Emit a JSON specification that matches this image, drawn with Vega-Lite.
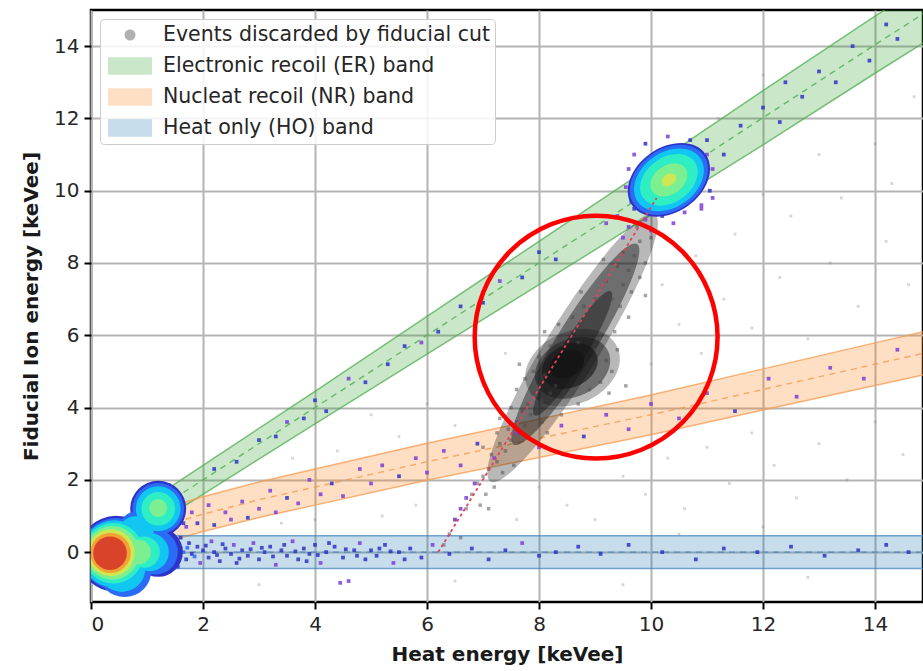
{
  "$schema": "https://vega.github.io/schema/vega-lite/v6.json",
  "width": 832,
  "height": 592,
  "autosize": {"type": "none"},
  "padding": {"left": 91, "top": 10, "right": 0, "bottom": 69},
  "config": {
    "font": "DejaVu Sans",
    "view": {"stroke": "#000000", "strokeWidth": 2.5},
    "axis": {
      "grid": true, "gridColor": "#b4b4b4", "gridWidth": 2, "domain": false,
      "tickColor": "#000000", "tickWidth": 2, "tickSize": 7,
      "labelFont": "DejaVu Sans", "labelFontSize": 20, "labelColor": "#262626", "labelPadding": 5,
      "titleFont": "DejaVu Sans", "titleFontSize": 20, "titleFontWeight": "bold", "titleColor": "#1a1a1a"
    },
    "legend": {
      "orient": "top-left", "offset": 9, "padding": 5, "fillColor": "rgba(255,255,255,0.85)",
      "strokeColor": "#cccccc", "cornerRadius": 4, "labelFont": "DejaVu Sans", "labelFontSize": 20.5,
      "labelColor": "#262626", "labelLimit": 400, "rowPadding": 9, "symbolSize": 484, "labelOffset": 36
    }
  },
  "datasets": {
    "bands": [
      {"band": "Electronic recoil (ER) band", "x": 0, "lo": -0.35, "hi": 0.35, "mid": 0},
      {"band": "Electronic recoil (ER) band", "x": 2, "lo": 1.6, "hi": 2.4, "mid": 2},
      {"band": "Electronic recoil (ER) band", "x": 4, "lo": 3.55, "hi": 4.45, "mid": 4},
      {"band": "Electronic recoil (ER) band", "x": 6, "lo": 5.48, "hi": 6.52, "mid": 6},
      {"band": "Electronic recoil (ER) band", "x": 8, "lo": 7.4, "hi": 8.6, "mid": 8},
      {"band": "Electronic recoil (ER) band", "x": 10, "lo": 9.33, "hi": 10.67, "mid": 10},
      {"band": "Electronic recoil (ER) band", "x": 12, "lo": 11.27, "hi": 12.77, "mid": 12.02},
      {"band": "Electronic recoil (ER) band", "x": 14, "lo": 13.25, "hi": 14.83, "mid": 14.04},
      {"band": "Electronic recoil (ER) band", "x": 15, "lo": 14.22, "hi": 15.84, "mid": 15.03},
      {"band": "Nucleat recoil (NR) band", "x": 0, "lo": -0.35, "hi": 0.55, "mid": 0.1},
      {"band": "Nucleat recoil (NR) band", "x": 0.5, "lo": -0.1, "hi": 0.8, "mid": 0.35},
      {"band": "Nucleat recoil (NR) band", "x": 1, "lo": 0.13, "hi": 1.07, "mid": 0.6},
      {"band": "Nucleat recoil (NR) band", "x": 2, "lo": 0.57, "hi": 1.53, "mid": 1.05},
      {"band": "Nucleat recoil (NR) band", "x": 3, "lo": 0.96, "hi": 1.94, "mid": 1.45},
      {"band": "Nucleat recoil (NR) band", "x": 4, "lo": 1.3, "hi": 2.3, "mid": 1.8},
      {"band": "Nucleat recoil (NR) band", "x": 6, "lo": 1.99, "hi": 3.01, "mid": 2.5},
      {"band": "Nucleat recoil (NR) band", "x": 8, "lo": 2.62, "hi": 3.68, "mid": 3.15},
      {"band": "Nucleat recoil (NR) band", "x": 10, "lo": 3.25, "hi": 4.35, "mid": 3.8},
      {"band": "Nucleat recoil (NR) band", "x": 12, "lo": 3.93, "hi": 5.07, "mid": 4.5},
      {"band": "Nucleat recoil (NR) band", "x": 14, "lo": 4.61, "hi": 5.79, "mid": 5.2},
      {"band": "Nucleat recoil (NR) band", "x": 15, "lo": 4.95, "hi": 6.15, "mid": 5.55},
      {"band": "Heat only (HO) band", "x": 0, "lo": -0.45, "hi": 0.45, "mid": 0},
      {"band": "Heat only (HO) band", "x": 15, "lo": -0.45, "hi": 0.45, "mid": 0}
    ],
    "graylong": [
      {"x": 8.6, "y": 5.65, "level": 1, "spread": 2.8},
      {"x": 8.65, "y": 5.75, "level": 2, "spread": 2.1},
      {"x": 8.6, "y": 5.5, "level": 2, "spread": 1.3}
    ],
    "graycore": [
      {"x": 8.6, "y": 5.1, "level": 1, "spread": 0.88},
      {"x": 8.6, "y": 5.1, "level": 2, "spread": 0.7},
      {"x": 8.55, "y": 5.15, "level": 3, "spread": 0.52},
      {"x": 8.5, "y": 5.2, "level": 4, "spread": 0.32}
    ],
    "grayd": [
      {"x": 6.3, "y": 0.2}, {"x": 6.4, "y": 0.5}, {"x": 6.5, "y": 0.9}, {"x": 6.7, "y": 1.2}, {"x": 6.8, "y": 1.6},
      {"x": 6.9, "y": 1.9}, {"x": 7.0, "y": 2.1}, {"x": 7.1, "y": 2.3}, {"x": 7.15, "y": 2.7}, {"x": 7.25, "y": 2.5},
      {"x": 7.3, "y": 3.0}, {"x": 7.4, "y": 2.8}, {"x": 7.45, "y": 3.4}, {"x": 7.5, "y": 3.1}, {"x": 7.6, "y": 3.6},
      {"x": 7.65, "y": 3.3}, {"x": 7.7, "y": 3.9}, {"x": 7.75, "y": 3.5}, {"x": 7.8, "y": 4.1}, {"x": 7.85, "y": 3.8},
      {"x": 7.9, "y": 4.4}, {"x": 7.95, "y": 4.0}, {"x": 8.0, "y": 4.6}, {"x": 8.05, "y": 4.2}, {"x": 8.1, "y": 4.9},
      {"x": 8.2, "y": 4.4}, {"x": 7.9, "y": 5.0}, {"x": 8.0, "y": 5.4}, {"x": 8.2, "y": 5.7}, {"x": 8.4, "y": 5.9},
      {"x": 8.7, "y": 5.8}, {"x": 9.0, "y": 5.6}, {"x": 9.2, "y": 5.3}, {"x": 9.3, "y": 5.0}, {"x": 9.1, "y": 4.7},
      {"x": 8.9, "y": 4.5}, {"x": 8.6, "y": 4.4}, {"x": 8.3, "y": 4.6}, {"x": 9.4, "y": 5.6}, {"x": 9.35, "y": 6.1},
      {"x": 8.9, "y": 6.3}, {"x": 9.1, "y": 6.6}, {"x": 9.3, "y": 7.0}, {"x": 9.5, "y": 7.4}, {"x": 9.0, "y": 7.0},
      {"x": 9.6, "y": 7.8}, {"x": 9.4, "y": 7.9}, {"x": 9.7, "y": 8.2}, {"x": 9.8, "y": 8.6}, {"x": 9.5, "y": 8.3},
      {"x": 9.2, "y": 7.5}, {"x": 9.65, "y": 7.2}, {"x": 9.9, "y": 8.0}, {"x": 10.0, "y": 8.7}, {"x": 8.8, "y": 6.8},
      {"x": 7.6, "y": 4.5}, {"x": 7.3, "y": 3.7}, {"x": 7.0, "y": 2.9}, {"x": 8.4, "y": 3.8}, {"x": 8.15, "y": 3.3},
      {"x": 9.6, "y": 6.5}, {"x": 9.9, "y": 7.1}, {"x": 8.6, "y": 6.5}, {"x": 8.1, "y": 6.1}, {"x": 9.55, "y": 4.6},
      {"x": 7.75, "y": 4.8}, {"x": 8.35, "y": 6.3}, {"x": 8.75, "y": 7.2}, {"x": 9.15, "y": 8.1}, {"x": 9.75, "y": 9.0},
      {"x": 9.45, "y": 6.8}, {"x": 9.8, "y": 7.6}, {"x": 8.7, "y": 4.1}, {"x": 8.05, "y": 3.6}, {"x": 7.55, "y": 2.4},
      {"x": 7.2, "y": 1.8}, {"x": 6.95, "y": 1.3}, {"x": 6.6, "y": 0.4}, {"x": 9.25, "y": 4.4}, {"x": 7.65, "y": 5.2},
      {"x": 7.35, "y": 2.2}, {"x": 7.05, "y": 1.6}, {"x": 7.25, "y": 3.3}, {"x": 7.5, "y": 4.0}, {"x": 7.1, "y": 1.2}
    ],
    "grayf": [
      {"x": 9.5, "y": 2.1}, {"x": 9.9, "y": 1.6}, {"x": 10.3, "y": 2.6}, {"x": 10.6, "y": 1.2}, {"x": 11.0, "y": 2.9},
      {"x": 11.4, "y": 1.9}, {"x": 11.8, "y": 3.3}, {"x": 12.2, "y": 2.4}, {"x": 12.6, "y": 1.5}, {"x": 13.0, "y": 3.0},
      {"x": 13.5, "y": 2.0}, {"x": 14.0, "y": 3.6}, {"x": 14.5, "y": 2.7}, {"x": 10.0, "y": 5.2}, {"x": 10.5, "y": 6.3},
      {"x": 10.9, "y": 5.5}, {"x": 11.3, "y": 7.0}, {"x": 11.8, "y": 6.2}, {"x": 12.3, "y": 7.6}, {"x": 12.8, "y": 5.9},
      {"x": 13.2, "y": 8.0}, {"x": 13.7, "y": 6.8}, {"x": 14.2, "y": 8.6}, {"x": 14.6, "y": 7.4}, {"x": 10.2, "y": 7.4},
      {"x": 10.8, "y": 8.2}, {"x": 11.5, "y": 8.8}, {"x": 12.5, "y": 9.3}, {"x": 13.4, "y": 9.8}, {"x": 14.3, "y": 10.2},
      {"x": 12.0, "y": 9.9}, {"x": 14.0, "y": 11.3}, {"x": 13.0, "y": 11.0}, {"x": 11.2, "y": 12.0}, {"x": 12.0, "y": 13.2},
      {"x": 14.7, "y": 12.6}, {"x": 5.5, "y": 3.2}, {"x": 5.0, "y": 3.8}, {"x": 4.4, "y": 2.8}, {"x": 3.6, "y": 2.6},
      {"x": 6.0, "y": 4.1}, {"x": 6.5, "y": 3.5}, {"x": 7.0, "y": 4.6}, {"x": 7.4, "y": 5.5}, {"x": 5.8, "y": 1.3},
      {"x": 5.2, "y": 1.0}, {"x": 4.0, "y": 0.9}, {"x": 3.4, "y": 0.8}, {"x": 8.5, "y": 1.3}, {"x": 8.0, "y": 1.8},
      {"x": 7.6, "y": 0.9}, {"x": 9.0, "y": 0.9}, {"x": 10.5, "y": 0.5}, {"x": 12.0, "y": 0.7}, {"x": 3.0, "y": -0.9},
      {"x": 6.5, "y": -0.8}, {"x": 9.5, "y": -0.9}, {"x": 12.8, "y": -0.7}
    ],
    "fdots": [
      {"x": 1.6, "y": 0.1, "level": 1}, {"x": 1.7, "y": -0.2, "level": 1}, {"x": 1.75, "y": 0.25, "level": 1}, {"x": 1.8, "y": -0.05, "level": 1},
      {"x": 1.9, "y": 0.15, "level": 1}, {"x": 1.95, "y": -0.3, "level": 0}, {"x": 2.0, "y": 0.05, "level": 1}, {"x": 2.1, "y": -0.15, "level": 1},
      {"x": 2.15, "y": 0.3, "level": 0}, {"x": 2.2, "y": 0.0, "level": 1}, {"x": 2.3, "y": -0.25, "level": 1}, {"x": 2.4, "y": 0.1, "level": 1},
      {"x": 2.5, "y": -0.05, "level": 1}, {"x": 2.55, "y": 0.2, "level": 0}, {"x": 2.6, "y": -0.3, "level": 1}, {"x": 2.7, "y": 0.05, "level": 1},
      {"x": 2.8, "y": -0.1, "level": 1}, {"x": 2.9, "y": 0.25, "level": 0}, {"x": 3.0, "y": -0.2, "level": 1}, {"x": 3.1, "y": 0.0, "level": 1},
      {"x": 3.2, "y": 0.15, "level": 1}, {"x": 3.3, "y": -0.35, "level": 0}, {"x": 3.4, "y": 0.05, "level": 1}, {"x": 3.5, "y": -0.1, "level": 1},
      {"x": 3.6, "y": 0.3, "level": 0}, {"x": 3.7, "y": -0.2, "level": 1}, {"x": 3.8, "y": 0.1, "level": 1}, {"x": 3.9, "y": -0.05, "level": 1},
      {"x": 4.0, "y": 0.2, "level": 1}, {"x": 4.1, "y": -0.3, "level": 0}, {"x": 4.2, "y": 0.0, "level": 1}, {"x": 4.35, "y": 0.15, "level": 1},
      {"x": 4.5, "y": -0.15, "level": 1}, {"x": 4.6, "y": -0.8, "level": 0}, {"x": 4.45, "y": -0.85, "level": 0}, {"x": 4.7, "y": 0.05, "level": 1},
      {"x": 4.8, "y": 0.25, "level": 0}, {"x": 4.9, "y": -0.2, "level": 1}, {"x": 5.0, "y": 0.05, "level": 1}, {"x": 5.1, "y": -0.1, "level": 1},
      {"x": 5.25, "y": 0.2, "level": 1}, {"x": 5.4, "y": -0.3, "level": 0}, {"x": 5.5, "y": 0.0, "level": 1}, {"x": 5.7, "y": 0.1, "level": 1},
      {"x": 5.9, "y": -0.15, "level": 1}, {"x": 6.1, "y": 0.2, "level": 0}, {"x": 6.4, "y": -0.05, "level": 1}, {"x": 6.8, "y": 0.1, "level": 1},
      {"x": 7.1, "y": -0.2, "level": 1}, {"x": 7.4, "y": 0.05, "level": 1}, {"x": 7.7, "y": 0.25, "level": 0}, {"x": 8.0, "y": -0.1, "level": 1},
      {"x": 8.3, "y": 0.0, "level": 1}, {"x": 8.7, "y": 0.15, "level": 1}, {"x": 9.1, "y": -0.05, "level": 1}, {"x": 9.6, "y": 0.2, "level": 1},
      {"x": 10.2, "y": 0.0, "level": 1}, {"x": 10.8, "y": -0.2, "level": 1}, {"x": 11.3, "y": 0.1, "level": 1}, {"x": 11.9, "y": 0.0, "level": 1},
      {"x": 12.5, "y": 0.15, "level": 1}, {"x": 13.1, "y": -0.1, "level": 1}, {"x": 13.7, "y": 0.05, "level": 1}, {"x": 14.2, "y": 0.2, "level": 1},
      {"x": 14.6, "y": 0.0, "level": 1},
      {"x": 1.65, "y": 0.0, "level": 2}, {"x": 1.72, "y": 0.12, "level": 2}, {"x": 1.85, "y": -0.12, "level": 2}, {"x": 2.05, "y": 0.18, "level": 1},
      {"x": 2.25, "y": -0.08, "level": 1}, {"x": 2.35, "y": 0.22, "level": 1}, {"x": 2.65, "y": -0.18, "level": 1}, {"x": 2.85, "y": 0.08, "level": 1},
      {"x": 3.05, "y": 0.12, "level": 1}, {"x": 3.25, "y": -0.12, "level": 1}, {"x": 3.45, "y": 0.2, "level": 1}, {"x": 3.65, "y": 0.02, "level": 1},
      {"x": 3.85, "y": -0.25, "level": 1}, {"x": 4.05, "y": -0.08, "level": 1}, {"x": 4.25, "y": 0.25, "level": 1}, {"x": 4.55, "y": 0.08, "level": 1},
      {"x": 4.75, "y": -0.1, "level": 1}, {"x": 5.15, "y": 0.1, "level": 1}, {"x": 5.35, "y": 0.02, "level": 1}, {"x": 5.6, "y": -0.2, "level": 1},
      {"x": 1.7, "y": 0.7, "level": 0}, {"x": 1.8, "y": 1.1, "level": 0}, {"x": 1.9, "y": 0.8, "level": 1}, {"x": 2.1, "y": 1.3, "level": 0},
      {"x": 2.2, "y": 0.75, "level": 1}, {"x": 2.4, "y": 1.1, "level": 0}, {"x": 2.5, "y": 0.9, "level": 0}, {"x": 2.7, "y": 1.4, "level": 0},
      {"x": 2.8, "y": 0.95, "level": 1}, {"x": 3.0, "y": 1.2, "level": 0}, {"x": 3.2, "y": 1.7, "level": 0}, {"x": 3.3, "y": 1.1, "level": 0},
      {"x": 3.5, "y": 1.5, "level": 1}, {"x": 3.7, "y": 1.35, "level": 0}, {"x": 3.9, "y": 2.0, "level": 0}, {"x": 4.1, "y": 1.6, "level": 0},
      {"x": 4.3, "y": 1.9, "level": 1}, {"x": 4.5, "y": 1.55, "level": 0}, {"x": 4.8, "y": 2.3, "level": 0}, {"x": 5.0, "y": 1.9, "level": 0},
      {"x": 5.2, "y": 2.4, "level": 0}, {"x": 5.5, "y": 2.1, "level": 1}, {"x": 5.8, "y": 2.6, "level": 0}, {"x": 6.0, "y": 2.2, "level": 0},
      {"x": 6.3, "y": 2.8, "level": 0}, {"x": 6.6, "y": 2.4, "level": 0}, {"x": 6.9, "y": 3.0, "level": 1}, {"x": 7.2, "y": 2.6, "level": 0},
      {"x": 7.6, "y": 3.3, "level": 0}, {"x": 8.0, "y": 2.9, "level": 0}, {"x": 8.4, "y": 3.5, "level": 0}, {"x": 8.8, "y": 3.2, "level": 1},
      {"x": 9.2, "y": 3.8, "level": 0}, {"x": 9.6, "y": 3.4, "level": 0}, {"x": 10.0, "y": 4.1, "level": 0}, {"x": 10.5, "y": 3.7, "level": 0},
      {"x": 11.0, "y": 4.4, "level": 0}, {"x": 11.5, "y": 3.9, "level": 1}, {"x": 12.1, "y": 4.8, "level": 0}, {"x": 12.6, "y": 4.3, "level": 0},
      {"x": 13.2, "y": 5.1, "level": 0}, {"x": 13.8, "y": 4.8, "level": 0}, {"x": 14.4, "y": 5.6, "level": 0},
      {"x": 6.5, "y": 0.9, "level": 0}, {"x": 6.7, "y": 1.5, "level": 0}, {"x": 6.85, "y": 1.9, "level": 0}, {"x": 6.6, "y": 1.2, "level": 0},
      {"x": 2.2, "y": 2.3, "level": 1}, {"x": 2.6, "y": 2.5, "level": 1}, {"x": 3.0, "y": 3.1, "level": 1}, {"x": 3.3, "y": 3.2, "level": 1},
      {"x": 3.5, "y": 3.6, "level": 0}, {"x": 3.8, "y": 3.7, "level": 1}, {"x": 4.0, "y": 4.2, "level": 1}, {"x": 4.2, "y": 3.9, "level": 1},
      {"x": 4.6, "y": 4.8, "level": 0}, {"x": 4.9, "y": 4.7, "level": 1}, {"x": 5.3, "y": 5.2, "level": 1}, {"x": 5.6, "y": 5.7, "level": 1},
      {"x": 5.9, "y": 5.8, "level": 0}, {"x": 6.2, "y": 6.1, "level": 1}, {"x": 6.6, "y": 6.8, "level": 1}, {"x": 7.0, "y": 6.9, "level": 1},
      {"x": 7.3, "y": 7.5, "level": 0}, {"x": 7.7, "y": 7.6, "level": 1}, {"x": 8.0, "y": 8.3, "level": 1}, {"x": 8.3, "y": 8.1, "level": 1},
      {"x": 11.0, "y": 11.4, "level": 1}, {"x": 11.3, "y": 11.0, "level": 1}, {"x": 11.6, "y": 11.8, "level": 1}, {"x": 12.0, "y": 12.3, "level": 1},
      {"x": 12.3, "y": 11.9, "level": 1}, {"x": 12.7, "y": 12.6, "level": 1}, {"x": 13.0, "y": 13.3, "level": 1}, {"x": 13.3, "y": 13.0, "level": 1},
      {"x": 13.6, "y": 14.0, "level": 1}, {"x": 13.9, "y": 13.6, "level": 1}, {"x": 14.2, "y": 14.6, "level": 1}, {"x": 14.4, "y": 14.2, "level": 1},
      {"x": 12.4, "y": 13.0, "level": 1},
      {"x": 9.4, "y": 9.3, "level": 0}, {"x": 9.6, "y": 9.0, "level": 0}, {"x": 9.7, "y": 9.5, "level": 1}, {"x": 9.9, "y": 9.2, "level": 0},
      {"x": 10.0, "y": 8.9, "level": 0}, {"x": 10.2, "y": 9.3, "level": 1}, {"x": 9.5, "y": 8.7, "level": 0}, {"x": 10.4, "y": 9.1, "level": 0},
      {"x": 10.6, "y": 9.4, "level": 0}, {"x": 10.9, "y": 9.5, "level": 0}, {"x": 11.1, "y": 9.8, "level": 0}, {"x": 9.2, "y": 9.1, "level": 0},
      {"x": 9.6, "y": 10.6, "level": 0}, {"x": 9.7, "y": 11.0, "level": 0}, {"x": 9.9, "y": 11.3, "level": 1}, {"x": 10.3, "y": 11.5, "level": 0},
      {"x": 10.7, "y": 11.4, "level": 1}, {"x": 11.0, "y": 11.0, "level": 0}, {"x": 11.1, "y": 10.6, "level": 0}, {"x": 11.05, "y": 10.0, "level": 1},
      {"x": 10.9, "y": 9.6, "level": 0}, {"x": 9.55, "y": 10.1, "level": 0}, {"x": 9.65, "y": 9.7, "level": 1},
      {"x": 1.5, "y": 1.6, "level": 1}, {"x": 1.6, "y": 1.2, "level": 1}, {"x": 1.65, "y": 0.8, "level": 1}, {"x": 0.9, "y": 1.6, "level": 1},
      {"x": 1.1, "y": 1.85, "level": 1}, {"x": 1.4, "y": 1.85, "level": 1}, {"x": 1.6, "y": 0.4, "level": 1}, {"x": 1.55, "y": -0.4, "level": 1},
      {"x": 1.3, "y": -0.6, "level": 1}, {"x": 0.9, "y": -0.9, "level": 1}, {"x": 0.6, "y": -1.0, "level": 1}, {"x": 0.3, "y": -0.95, "level": 1},
      {"x": 0.15, "y": 0.8, "level": 1}, {"x": 0.5, "y": 0.75, "level": 1}, {"x": 0.75, "y": 0.65, "level": 1}
    ],
    "lowe": [
      {"x": 0.45, "y": -0.05, "level": 1, "spread": 0.68},
      {"x": 1.2, "y": 1.2, "level": 1, "spread": 0.5},
      {"x": 1.2, "y": 0.0, "level": 1, "spread": 0.44},
      {"x": 0.45, "y": -0.05, "level": 2, "spread": 0.64},
      {"x": 1.2, "y": 1.2, "level": 2, "spread": 0.46},
      {"x": 1.15, "y": 0.0, "level": 2, "spread": 0.4},
      {"x": 0.6, "y": -0.5, "level": 2, "spread": 0.48},
      {"x": 0.85, "y": 0.55, "level": 2, "spread": 0.38},
      {"x": 0.42, "y": -0.05, "level": 3, "spread": 0.6},
      {"x": 1.2, "y": 1.2, "level": 3, "spread": 0.4},
      {"x": 1.05, "y": 0.0, "level": 3, "spread": 0.34},
      {"x": 0.55, "y": -0.45, "level": 3, "spread": 0.42},
      {"x": 0.8, "y": 0.5, "level": 3, "spread": 0.32},
      {"x": 0.4, "y": -0.03, "level": 4, "spread": 0.54},
      {"x": 1.2, "y": 1.2, "level": 4, "spread": 0.3},
      {"x": 0.95, "y": 0.0, "level": 4, "spread": 0.28},
      {"x": 0.38, "y": -0.02, "level": 5, "spread": 0.48},
      {"x": 1.2, "y": 1.22, "level": 5, "spread": 0.16},
      {"x": 0.85, "y": 0.0, "level": 5, "spread": 0.22},
      {"x": 0.36, "y": -0.02, "level": 6, "spread": 0.42},
      {"x": 0.35, "y": -0.02, "level": 7, "spread": 0.36},
      {"x": 0.34, "y": -0.03, "level": 8, "spread": 0.3}
    ],
    "erc": [
      {"x": 10.32, "y": 10.3, "level": 1, "spread": 0.8},
      {"x": 10.32, "y": 10.3, "level": 2, "spread": 0.76},
      {"x": 10.32, "y": 10.3, "level": 3, "spread": 0.68},
      {"x": 10.32, "y": 10.3, "level": 4, "spread": 0.56},
      {"x": 10.32, "y": 10.3, "level": 5, "spread": 0.36},
      {"x": 10.32, "y": 10.3, "level": 6, "spread": 0.14}
    ],
    "redline": [
      {"x": 6.2, "y": 0.0},
      {"x": 10.1, "y": 9.8}
    ],
    "circ": [
      {"x": 9.02, "y": 5.95}
    ]
  },
  "layer": [
    {
      "data": {"name": "bands"},
      "mark": {"type": "area", "clip": true, "fillOpacity": 0.25},
      "encoding": {
        "x": {"field": "x", "type": "quantitative", "title": "Heat energy [keVee]",
              "scale": {"domain": [0, 14.857], "nice": false, "zero": false},
              "axis": {"values": [0, 2, 4, 6, 8, 10, 12, 14], "titlePadding": 10}},
        "y": {"field": "lo", "type": "quantitative", "title": "Fiducial Ion energy [keVee]", "stack": null,
              "scale": {"domain": [-1.38, 15], "nice": false, "zero": false},
              "axis": {"values": [0, 2, 4, 6, 8, 10, 12, 14], "titlePadding": 12}},
        "y2": {"field": "hi"},
        "color": {"field": "band", "type": "nominal",
                  "scale": {"domain": ["Events discarded by fiducial cut", "Electronic recoil (ER) band", "Nucleat recoil (NR) band", "Heat only (HO) band"],
                            "range": ["#3a3a3a", "#2ca02c", "#ff7f0e", "#1f77b4"]},
                  "legend": {"title": null,
                    "encode": {"symbols": {"update": {
                      "shape": {"signal": "datum.value === 'Events discarded by fiducial cut' ? 'M1.773,0 A0.5,0.5 0 1 1 0.773,0 A0.5,0.5 0 1 1 1.773,0 Z' : 'M-0.727,-0.8H3.273V0.8H-0.727Z'"},
                      "size": {"value": 484},
                      "fillOpacity": {"signal": "datum.value === 'Events discarded by fiducial cut' ? 0.4 : 0.25"},
                      "opacity": {"value": 1},
                      "strokeWidth": {"value": 0}
                    }}}}}
      }
    },
    {
      "data": {"name": "bands"},
      "transform": [{"fold": ["lo", "hi"], "as": ["edge", "val"]}],
      "mark": {"type": "line", "clip": true, "strokeWidth": 1.5, "opacity": 0.75},
      "encoding": {
        "x": {"field": "x", "type": "quantitative", "title": "Heat energy [keVee]"},
        "y": {"field": "val", "type": "quantitative", "title": "Fiducial Ion energy [keVee]"},
        "detail": {"field": "edge"},
        "stroke": {"field": "band", "type": "nominal", "legend": null,
                   "scale": {"domain": ["Electronic recoil (ER) band", "Nucleat recoil (NR) band", "Heat only (HO) band"],
                             "range": ["#4fae4f", "#f59a50", "#4a86bd"]}}
      }
    },
    {
      "data": {"name": "bands"},
      "mark": {"type": "line", "clip": true, "strokeWidth": 1.4, "strokeDash": [6, 5], "opacity": 0.8},
      "encoding": {
        "x": {"field": "x", "type": "quantitative", "title": "Heat energy [keVee]"},
        "y": {"field": "mid", "type": "quantitative", "title": "Fiducial Ion energy [keVee]"},
        "stroke": {"field": "band", "type": "nominal", "legend": null}
      }
    },
    {
      "data": {"name": "graylong"},
      "mark": {"type": "point", "filled": true, "clip": true, "fill": "#141414",
               "shape": "M0.524,-0.852 A1,0.17,-58.4,1,1,-0.524,0.852 A1,0.17,-58.4,1,1,0.524,-0.852 Z"},
      "encoding": {
        "x": {"field": "x", "type": "quantitative", "title": "Heat energy [keVee]"},
        "y": {"field": "y", "type": "quantitative", "title": "Fiducial Ion energy [keVee]"},
        "size": {"field": "spread", "type": "quantitative", "legend": null,
                 "scale": {"type": "pow", "exponent": 2, "domain": [0, 1], "range": [0, 12544], "zero": true}},
        "opacity": {"field": "level", "type": "quantitative", "legend": null,
                    "scale": {"domain": [1, 4], "range": [0.3, 0.75]}}
      }
    },
    {
      "data": {"name": "graycore"},
      "mark": {"type": "point", "filled": true, "clip": true, "fill": "#141414",
               "shape": "M0.906,-0.423 A1,0.72,-25,1,1,-0.906,0.423 A1,0.72,-25,1,1,0.906,-0.423 Z"},
      "encoding": {
        "x": {"field": "x", "type": "quantitative", "title": "Heat energy [keVee]"},
        "y": {"field": "y", "type": "quantitative", "title": "Fiducial Ion energy [keVee]"},
        "size": {"field": "spread", "type": "quantitative", "legend": null},
        "opacity": {"field": "level", "type": "quantitative", "legend": null}
      }
    },
    {
      "data": {"name": "grayd"},
      "mark": {"type": "point", "filled": true, "shape": "square", "clip": true, "fill": "#4a4a4a", "opacity": 0.5, "size": 12},
      "encoding": {
        "x": {"field": "x", "type": "quantitative", "title": "Heat energy [keVee]"},
        "y": {"field": "y", "type": "quantitative", "title": "Fiducial Ion energy [keVee]"}
      }
    },
    {
      "data": {"name": "grayf"},
      "mark": {"type": "point", "filled": true, "shape": "square", "clip": true, "fill": "#8a8a8a", "opacity": 0.35, "size": 8},
      "encoding": {
        "x": {"field": "x", "type": "quantitative", "title": "Heat energy [keVee]"},
        "y": {"field": "y", "type": "quantitative", "title": "Fiducial Ion energy [keVee]"}
      }
    },
    {
      "data": {"name": "fdots"},
      "mark": {"type": "point", "filled": true, "shape": "square", "clip": true, "size": 14, "opacity": 0.85},
      "encoding": {
        "x": {"field": "x", "type": "quantitative", "title": "Heat energy [keVee]"},
        "y": {"field": "y", "type": "quantitative", "title": "Fiducial Ion energy [keVee]"},
        "fill": {"field": "level", "type": "ordinal", "legend": null,
                 "scale": {"domain": [0, 1, 2, 3, 4, 5, 6, 7, 8],
                           "range": ["#7b3fd8", "#2f34c8", "#2a6cf5", "#12c6f2", "#30eec4", "#7cef90", "#cde852", "#f4a233", "#d9432a"]}}
      }
    },
    {
      "data": {"name": "lowe"},
      "mark": {"type": "point", "filled": true, "shape": "circle", "clip": true, "opacity": 1},
      "encoding": {
        "x": {"field": "x", "type": "quantitative", "title": "Heat energy [keVee]"},
        "y": {"field": "y", "type": "quantitative", "title": "Fiducial Ion energy [keVee]"},
        "size": {"field": "spread", "type": "quantitative", "legend": null},
        "fill": {"field": "level", "type": "ordinal", "legend": null},
        "order": {"field": "level", "type": "quantitative"}
      }
    },
    {
      "data": {"name": "erc"},
      "mark": {"type": "point", "filled": true, "clip": true, "opacity": 1,
               "shape": "M0.819,-0.574 A1,0.72,-35,1,1,-0.819,0.574 A1,0.72,-35,1,1,0.819,-0.574 Z"},
      "encoding": {
        "x": {"field": "x", "type": "quantitative", "title": "Heat energy [keVee]"},
        "y": {"field": "y", "type": "quantitative", "title": "Fiducial Ion energy [keVee]"},
        "size": {"field": "spread", "type": "quantitative", "legend": null},
        "fill": {"field": "level", "type": "ordinal", "legend": null},
        "order": {"field": "level", "type": "quantitative"}
      }
    },
    {
      "data": {"name": "redline"},
      "mark": {"type": "line", "clip": true, "stroke": "#e8405a", "strokeWidth": 1.8, "strokeDash": [3, 3]},
      "encoding": {
        "x": {"field": "x", "type": "quantitative", "title": "Heat energy [keVee]"},
        "y": {"field": "y", "type": "quantitative", "title": "Fiducial Ion energy [keVee]"}
      }
    },
    {
      "data": {"name": "circ"},
      "mark": {"type": "point", "filled": false, "shape": "circle", "stroke": "#ff0000", "strokeWidth": 4.5, "size": 59000, "opacity": 1},
      "encoding": {
        "x": {"field": "x", "type": "quantitative", "title": "Heat energy [keVee]"},
        "y": {"field": "y", "type": "quantitative", "title": "Fiducial Ion energy [keVee]"}
      }
    }
  ]
}
